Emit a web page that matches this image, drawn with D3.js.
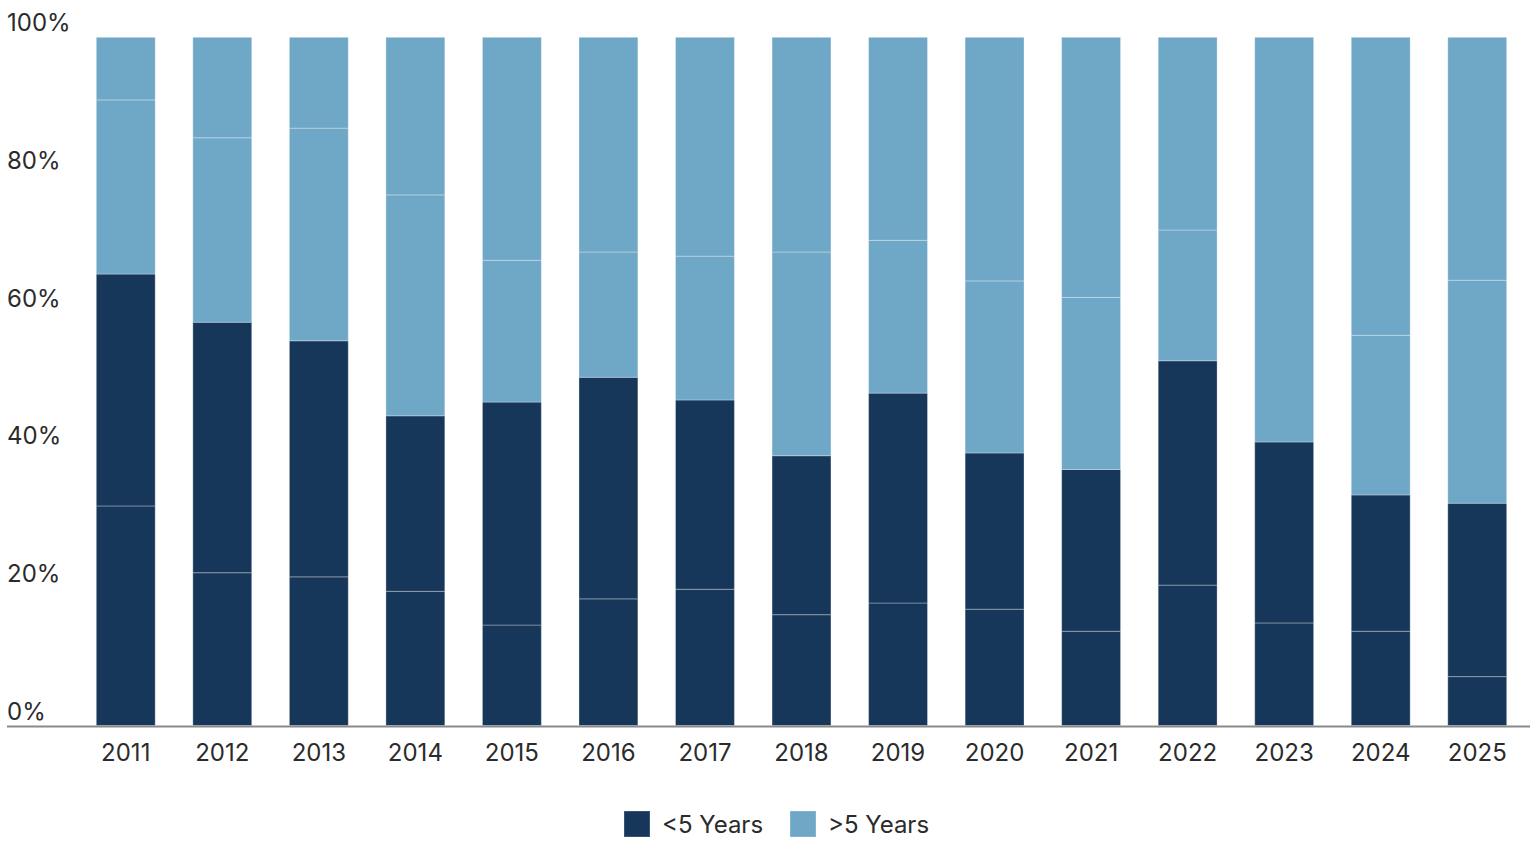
<!DOCTYPE html>
<html lang="en">
<head>
	<meta charset="UTF-8">
	<title>stacked share by year</title>
	<script src="https://cdn.jsdelivr.net/npm/d3@7"></script>
	<style>
		body { margin: 0; background: #fff; }
		svg text { font-family: Inter, "Noto Sans", sans-serif; fill: #2b2b2b; }
	</style>
</head>
<body>
	<svg id="chart" width="1540" height="856"></svg>
<script>
// values (% of each bar)
var years = ["2011","2012","2013","2014","2015","2016","2017","2018","2019","2020","2021","2022","2023","2024","2025"];
var under5_a = [31.9, 22.2, 21.6, 19.5, 14.6, 18.4, 19.8, 16.1, 17.8, 16.9, 13.7, 20.4, 14.9, 13.7, 7.1];
var under5_b = [33.7, 36.4, 34.3, 25.5, 32.4, 32.2, 27.5, 23.1, 30.5, 22.7, 23.5, 32.6, 26.3, 19.8, 25.2];
var over5_a  = [25.3, 26.8, 30.9, 32.1, 20.6, 18.2, 20.9, 29.6, 22.2, 25.0, 25.0, 19.0, 58.8, 23.2, 32.4];
var over5_b  = [ 9.1, 14.6, 13.2, 22.9, 32.4, 31.2, 31.8, 31.2, 29.5, 35.4, 37.8, 28.0,  0.0, 43.3, 35.3];
var yTicks = [0, 20, 40, 60, 80, 100];
var legendLabels = ["<5 Years", ">5 Years"];

var dark = "#17375a", light = "#6fa7c7";
var keys = ["u5a", "u5b", "o5a", "o5b"];
var colorOf = { u5a: dark, u5b: dark, o5a: light, o5b: light };

var table = years.map(function(y, i) {
	return { year: y, u5a: under5_a[i], u5b: under5_b[i], o5a: over5_a[i], o5b: over5_b[i] };
});

var svg = d3.select("#chart");

var x = d3.scaleBand()
	.domain(years)
	.range([77, 1526])
	.paddingInner(0.39)
	.paddingOuter(0.2);

var y = d3.scaleLinear()
	.domain([0, 100])
	.range([725.5, 37.3]);

// y tick labels sit just above their value line
svg.append("g").selectAll("text")
	.data(yTicks)
	.enter()
	.append("text")
	.attr("x", 7)
	.attr("y", function(d){ return y(d) - 6; })
	.attr("font-size", 24)
	.text(function(d){ return d + "%"; });

var series = d3.stack().keys(keys)(table);

svg.append("g").selectAll("g")
	.data(series)
	.enter()
	.append("g")
	.attr("fill", function(d){ return colorOf[d.key]; })
	.selectAll("rect")
	.data(function(d){ return d; })
	.enter()
	.append("rect")
	.attr("x", function(d){ return x(d.data.year); })
	.attr("width", x.bandwidth())
	.attr("y", function(d){ return y(d[1]); })
	.attr("height", function(d){ return Math.max(0, y(d[0]) - y(d[1])); })
	.attr("stroke", "rgba(255,255,255,0.3)")
	.attr("stroke-width", 1);

// baseline
svg.append("line")
	.attr("x1", 7).attr("x2", 1530)
	.attr("y1", y(0) + 1).attr("y2", y(0) + 1)
	.attr("stroke", "#8a8a8a")
	.attr("stroke-width", 2);

// year labels
var xAxis = svg.append("g")
	.attr("transform", "translate(0," + (y(0) + 1) + ")")
	.call(d3.axisBottom(x).tickSize(0).tickPadding(17));
xAxis.select(".domain").remove();
xAxis.selectAll("text")
	.attr("font-size", 24)
	.attr("font-family", "Inter, 'Noto Sans', sans-serif")
	.attr("fill", "#2b2b2b");

// legend
var legend = svg.append("g").attr("transform", "translate(624,811)");
var items = legend.selectAll("g")
	.data(legendLabels)
	.enter()
	.append("g")
	.attr("transform", function(d, i){ return "translate(" + (i * 166) + ",0)"; });
items.append("rect")
	.attr("width", 26).attr("height", 26)
	.attr("fill", function(d, i){ return i === 0 ? dark : light; })
	.attr("stroke", "rgba(255,255,255,0.3)");
items.append("text")
	.attr("x", 38)
	.attr("y", 22)
	.attr("font-size", 24)
	.text(function(d){ return d; });
</script>
</body>
</html>
